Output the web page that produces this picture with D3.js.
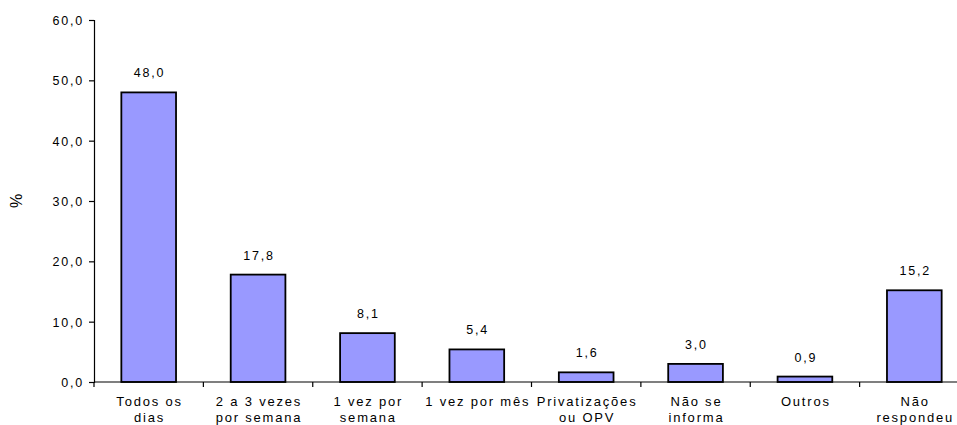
<!DOCTYPE html>
<html>
<head>
<meta charset="utf-8">
<script src="https://cdn.jsdelivr.net/npm/d3@7"></script>
<style>
  html, body { margin: 0; padding: 0; background: #fff; }
  svg { display: block; font-family: "Liberation Sans", Arial, sans-serif; }
</style>
</head>
<body>
<svg id="chart" width="957" height="425"></svg>
<script>
// Frequency categories (each entry is the label split onto lines)
const categories = [
  ["Todos os", "dias"],
  ["2 a 3 vezes", "por semana"],
  ["1 vez por", "semana"],
  ["1 vez por mês"],
  ["Privatizações", "ou OPV"],
  ["Não se", "informa"],
  ["Outros"],
  ["Não", "respondeu"]
];
const values = [48.0, 17.8, 8.1, 5.4, 1.6, 3.0, 0.9, 15.2];
const yTicks = [0, 10, 20, 30, 40, 50, 60];
const yLabel = "%";

const fmt = v => v.toFixed(1).replace(".", ",");

const svg = d3.select("#chart");
const margin = { left: 94, top: 20 };
const plotRight = 969;
const plotBottom = 382;

const x = d3.scaleBand()
  .domain(d3.range(categories.length))
  .range([margin.left, plotRight])
  .paddingInner(0.5)
  .paddingOuter(0.25);

const y = d3.scaleLinear().domain([0, 60]).range([plotBottom, margin.top]);

const ls = 1.8; // letter spacing used for all text

// Bars
svg.append("g").selectAll("rect")
  .data(values)
  .join("rect")
  .attr("x", (d, i) => x(i))
  .attr("y", d => y(d))
  .attr("width", x.bandwidth())
  .attr("height", d => y(0) - y(d))
  .attr("fill", "#9999ff")
  .attr("stroke", "#000")
  .attr("stroke-width", 1.8);

// Value labels
svg.append("g").selectAll("text")
  .data(values)
  .join("text")
  .attr("x", (d, i) => x(i) + x.bandwidth() / 2 + ls / 2)
  .attr("y", d => y(d) - 15)
  .attr("text-anchor", "middle")
  .attr("font-size", 12.5)
  .attr("letter-spacing", ls)
  .attr("fill", "#000")
  .text(d => fmt(d));

// Y axis
const yAxis = d3.axisLeft(y)
  .tickValues(yTicks)
  .tickSize(5)
  .tickFormat(fmt);
const gy = svg.append("g")
  .attr("transform", `translate(${margin.left},0)`)
  .call(yAxis);
gy.select(".domain").attr("stroke", "#000").attr("stroke-width", 1.2);
gy.selectAll(".tick line").attr("stroke", "#000").attr("stroke-width", 1.2);
gy.selectAll(".tick text")
  .attr("font-size", 12.5)
  .attr("font-family", "Liberation Sans, Arial, sans-serif")
  .attr("letter-spacing", ls)
  .attr("x", -10)
  .attr("dy", "0.35em")
  .attr("fill", "#000");

// X axis baseline with ticks at band boundaries
const step = x.step();
const boundaries = d3.range(categories.length + 1).map(i => margin.left + i * step);
const gx = svg.append("g");
gx.append("line")
  .attr("x1", margin.left).attr("x2", plotRight)
  .attr("y1", plotBottom).attr("y2", plotBottom)
  .attr("stroke", "#000").attr("stroke-width", 1.2);
gx.selectAll("line.tick")
  .data(boundaries)
  .join("line")
  .attr("class", "tick")
  .attr("x1", d => d).attr("x2", d => d)
  .attr("y1", plotBottom).attr("y2", plotBottom + 5)
  .attr("stroke", "#000").attr("stroke-width", 1.2);

// Category labels
const catText = svg.append("g").selectAll("text")
  .data(categories)
  .join("text")
  .attr("y", 406)
  .attr("text-anchor", "middle")
  .attr("font-size", 13)
  .attr("letter-spacing", ls)
  .attr("fill", "#000");
catText.each(function(lines, i) {
  const t = d3.select(this);
  lines.forEach((line, j) => {
    t.append("tspan")
      .attr("x", x(i) + x.bandwidth() / 2 + ls / 2)
      .attr("dy", j === 0 ? 0 : 16)
      .text(line);
  });
});

// Y axis title
svg.append("text")
  .attr("transform", `translate(22,201) rotate(-90)`)
  .attr("text-anchor", "middle")
  .attr("font-size", 16)
  .attr("fill", "#000")
  .text(yLabel);
</script>
</body>
</html>
